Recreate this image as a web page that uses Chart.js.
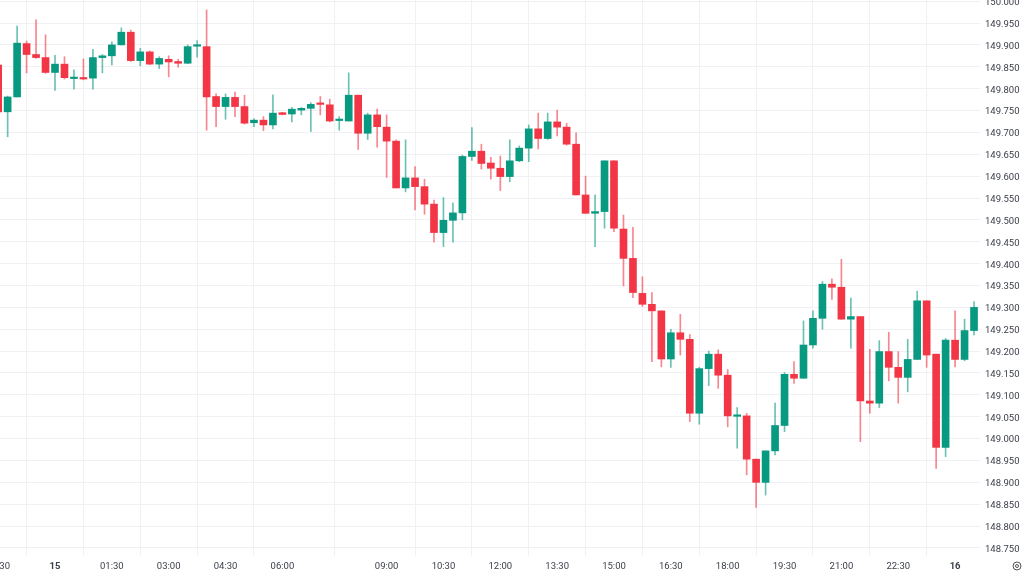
<!DOCTYPE html>
<html>
<head>
<meta charset="utf-8">
<script src="https://cdn.jsdelivr.net/npm/chart.js@4.4.0/dist/chart.umd.min.js"></script>
<style>
  html, body { margin: 0; padding: 0; background: #fff; }
  #wrap { width: 1024px; height: 576px; }
</style>
</head>
<body>
<div id="wrap"><canvas id="candles" width="1024" height="576"></canvas></div>
<script>
// 15 minute candles, 22:30 (14th) to 00:30 (16th)
const opens = [149.854,149.747,149.781,149.903,149.878,149.871,149.837,149.856,149.823,149.825,
  149.824,149.871,149.875,149.900,149.929,149.864,149.884,149.856,149.867,149.862,
  149.858,149.897,149.896,149.782,149.759,149.780,149.759,149.722,149.728,149.717,
  149.745,149.742,149.751,149.755,149.766,149.763,149.727,149.726,149.785,149.698,
  149.740,149.712,149.680,149.573,149.596,149.576,149.536,149.471,149.499,149.516,
  149.645,149.657,149.630,149.618,149.599,149.635,149.664,149.708,149.686,149.724,
  149.712,149.673,149.557,149.515,149.519,149.635,149.479,149.412,149.332,149.307,
  149.292,149.182,149.242,149.227,149.058,149.160,149.193,149.145,149.051,149.052,
  148.953,148.900,148.972,149.030,149.147,149.138,149.214,149.275,149.353,149.346,
  149.273,149.279,149.086,149.081,149.199,149.163,149.140,149.181,149.315,149.193,
  148.980,149.225,149.181,149.247];
const highs = [149.856,149.783,149.943,149.909,149.957,149.923,149.876,149.873,149.843,149.868,
  149.890,149.878,149.907,149.939,149.934,149.892,149.886,149.873,149.875,149.867,
  149.900,149.910,149.980,149.788,149.788,149.792,149.785,149.731,149.736,149.786,
  149.746,149.757,149.757,149.768,149.782,149.776,149.736,149.836,149.785,149.744,
  149.753,149.740,149.683,149.683,149.622,149.593,149.545,149.551,149.539,149.648,
  149.711,149.673,149.643,149.646,149.683,149.669,149.717,149.744,149.744,149.751,
  149.721,149.699,149.600,149.557,149.635,149.635,149.511,149.483,149.370,149.334,
  149.292,149.250,149.284,149.238,149.163,149.200,149.203,149.158,149.071,149.058,
  148.953,148.972,149.081,149.151,149.176,149.269,149.292,149.359,149.365,149.410,
  149.321,149.279,149.204,149.224,149.243,149.199,149.227,149.337,149.315,149.193,
  149.229,149.292,149.273,149.313];
const lows = [149.744,149.690,149.781,149.836,149.869,149.835,149.796,149.822,149.799,149.820,
  149.799,149.836,149.854,149.900,149.862,149.852,149.855,149.846,149.827,149.849,
  149.857,149.872,149.705,149.713,149.730,149.736,149.719,149.713,149.704,149.708,
  149.740,149.724,149.740,149.702,149.740,149.724,149.705,149.726,149.661,149.684,
  149.666,149.597,149.573,149.564,149.523,149.513,149.449,149.439,149.449,149.500,
  149.636,149.616,149.593,149.567,149.587,149.633,149.633,149.662,149.684,149.692,
  149.671,149.557,149.515,149.439,149.481,149.473,149.349,149.322,149.302,149.176,
  149.164,149.163,149.191,149.039,149.033,149.121,149.115,149.027,148.978,148.917,
  148.843,148.871,148.963,149.016,149.126,149.138,149.207,149.250,149.318,149.273,
  149.207,148.993,149.058,149.071,149.132,149.081,149.107,149.181,149.163,148.932,
  148.959,149.164,149.178,149.237];
const closes = [149.747,149.781,149.904,149.878,149.871,149.837,149.856,149.825,149.825,149.822,
  149.871,149.875,149.900,149.929,149.864,149.884,149.856,149.869,149.861,149.858,
  149.896,149.899,149.781,149.759,149.780,149.759,149.721,149.728,149.717,149.744,
  149.741,149.753,149.755,149.764,149.764,149.726,149.728,149.785,149.698,149.740,
  149.713,149.680,149.573,149.596,149.576,149.536,149.471,149.499,149.516,149.645,
  149.657,149.629,149.618,149.599,149.635,149.664,149.708,149.686,149.724,149.712,
  149.673,149.557,149.515,149.519,149.635,149.481,149.412,149.334,149.307,149.292,
  149.182,149.242,149.227,149.058,149.160,149.193,149.145,149.052,149.053,148.953,
  148.900,148.972,149.030,149.147,149.138,149.214,149.275,149.353,149.346,149.273,
  149.279,149.086,149.081,149.199,149.163,149.140,149.181,149.315,149.191,148.980,
  149.225,149.181,149.247,149.300];

// time axis labels (candle index -> text)
const tickIndex = [0, 6, 12, 18, 24, 30, 41, 47, 53, 59, 65, 71, 77, 83, 89, 95, 101];
const tickText = ['22:30', '15', '01:30', '03:00', '04:30', '06:00', '09:00', '10:30', '12:00',
  '13:30', '15:00', '16:30', '18:00', '19:30', '21:00', '22:30', '16'];
const dayLabels = ['15', '16'];

const UP = '#089981', DOWN = '#f23645';
const UP_WICK = 'rgba(8,153,129,0.6)', DOWN_WICK = 'rgba(242,54,69,0.6)';

const isUp = opens.map((o, i) => closes[i] >= o);
const bodyData = opens.map((o, i) => ({ x: i, y: [o, closes[i]] }));
const wickData = lows.map((l, i) => ({ x: i, y: [l, highs[i]] }));

const gear = {
  id: 'gear',
  afterDraw(chart) {
    const ctx = chart.ctx;
    ctx.save();
    ctx.strokeStyle = '#555';
    ctx.lineWidth = 1;
    ctx.beginPath();
    ctx.arc(1017, 566, 4, 0, Math.PI * 2);
    ctx.stroke();
    ctx.beginPath();
    ctx.arc(1017, 566, 1.5, 0, Math.PI * 2);
    ctx.stroke();
    ctx.restore();
  }
};

new Chart(document.getElementById('candles').getContext('2d'), {
  type: 'bar',
  data: {
    datasets: [
      {
        data: bodyData,
        backgroundColor: isUp.map(u => u ? UP : DOWN),
        borderWidth: 0,
        barThickness: 7,
        minBarLength: 1.5,
        grouped: false,
        order: 0
      },
      {
        data: wickData,
        backgroundColor: isUp.map(u => u ? UP_WICK : DOWN_WICK),
        borderWidth: 0,
        barThickness: 1,
        grouped: false,
        order: 1
      }
    ]
  },
  options: {
    responsive: false,
    animation: false,
    devicePixelRatio: 1,
    layout: { padding: 0 },
    plugins: { legend: { display: false }, tooltip: { enabled: false } },
    scales: {
      x: {
        type: 'linear',
        min: 0.194,
        max: 103.63,
        offset: false,
        border: { display: false },
        grid: { color: '#f0f1f4', drawTicks: false },
        afterBuildTicks: scale => { scale.ticks = tickIndex.map(v => ({ value: v })); },
        afterFit: scale => { scale.height = 20; scale.paddingLeft = 0; scale.paddingRight = 0; },
        ticks: {
          autoSkip: false,
          maxRotation: 0,
          padding: 5,
          color: '#3a3e48',
          font: ctx => {
            const t = ctx.tick ? tickText[tickIndex.indexOf(ctx.tick.value)] : '';
            return { family: 'Roboto', size: 9.5, weight: dayLabels.includes(t) ? 'bold' : 'normal' };
          },
          callback: value => {
            const k = tickIndex.indexOf(value);
            return k < 0 ? null : tickText[k];
          }
        }
      },
      y: {
        position: 'right',
        min: 148.7317,
        max: 150.0026,
        border: { display: false },
        grid: { color: '#f0f1f4', drawTicks: false },
        afterFit: scale => { scale.width = 44; scale.paddingTop = 0; scale.paddingBottom = 0; },
        ticks: {
          stepSize: 0.05,
          includeBounds: false,
          padding: 5,
          labelOffset: 1.5,
          color: '#3a3e48',
          font: { family: 'Roboto', size: 9.5 },
          callback: v => v.toFixed(3)
        }
      }
    }
  },
  plugins: [gear]
});
</script>
</body>
</html>
